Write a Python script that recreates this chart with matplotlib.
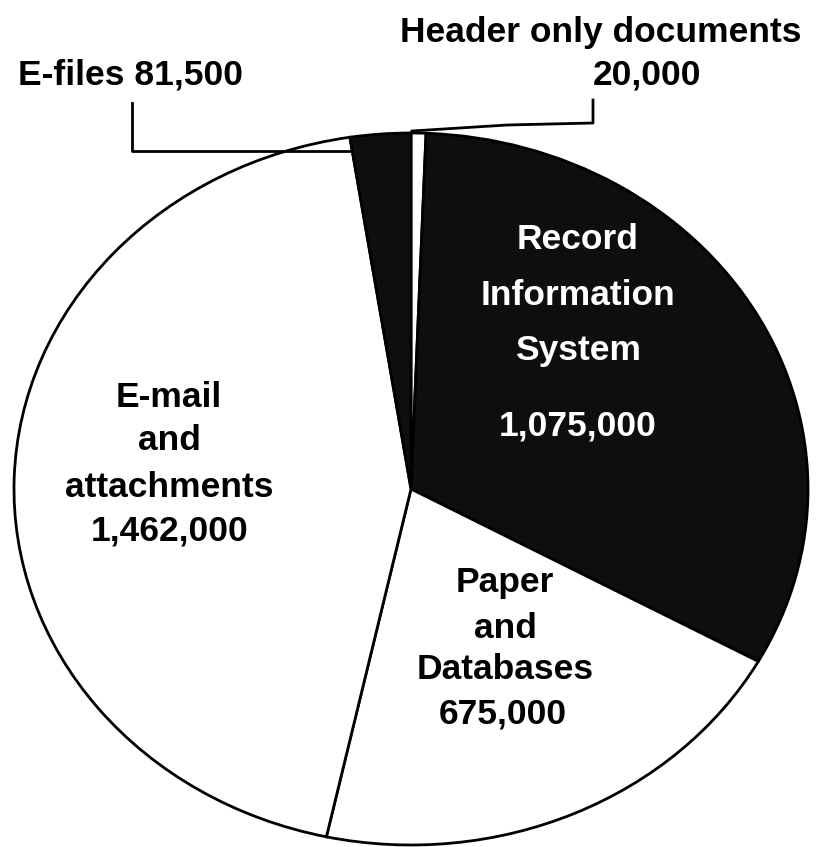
import matplotlib
matplotlib.use('Agg')
import matplotlib.pyplot as plt

# slice data, clockwise from the top
labels = ['Header only documents', 'Record Information System',
          'Paper and Databases', 'E-mail and attachments', 'E-files']
counts = [20000, 1075000, 675000, 1462000, 81500]
colors = ['white', '#0e0e0e', 'white', 'white', '#0e0e0e']

# text lines inside the slices
ris_lines = ['Record', 'Information', 'System']
mail_lines = ['E-mail', 'and', 'attachments']
paper_lines = ['Paper', 'and', 'Databases']

W, H = 816, 847
cx, cy = 411, 489
rx, ry = 397, 356


def px(x, y):
    # picture pixels -> data units of the (stretched) pie
    return (x - cx) / rx, (cy - y) / ry


def main():
    fig = plt.figure(figsize=(W / 100, H / 100), dpi=100)
    ax = fig.add_axes([0, 0, 1, 1])

    ax.pie(counts, colors=colors, startangle=90, counterclock=False,
           wedgeprops=dict(edgecolor='black', linewidth=2))
    ax.set_aspect('auto')
    x0, y0 = px(0, H)
    x1, y1 = px(W, 0)
    ax.set_xlim(x0, x1)
    ax.set_ylim(y0, y1)
    ax.axis('off')

    font = dict(family='Liberation Sans', weight='bold', size=25.5,
                ha='center', va='baseline')

    def put(s, x, y, color='black'):
        ax.text(*px(x, y), s, color=color, **font)

    # Record Information System
    for s, y in zip(ris_lines, [249, 305, 360]):
        put(s, 578, y, 'white')
    put(f'{counts[1]:,}', 578, 435, 'white')

    # E-mail and attachments
    for s, y in zip(mail_lines, [407, 450, 497]):
        put(s, 169, y)
    put(f'{counts[3]:,}', 170, 540)

    # Paper and Databases
    for s, y in zip(paper_lines, [592, 638, 679]):
        put(s, 505, y)
    put(f'{counts[2]:,}', 503, 723)

    # callouts for the two thin slices
    put(f'{labels[4]} {counts[4]:,}', 130, 85)
    put(labels[0], 601, 42)
    put(f'{counts[0]:,}', 647, 85)

    line = [px(132, 103), px(132, 151), px(352, 151)]
    ax.plot([p[0] for p in line], [p[1] for p in line], color='black', lw=2)
    line = [px(593, 100), px(593, 123), px(507, 125), px(412, 131)]
    ax.plot([p[0] for p in line], [p[1] for p in line], color='black', lw=2)

    fig.savefig('out.png', dpi=100, facecolor='white')


if __name__ == '__main__':
    main()
